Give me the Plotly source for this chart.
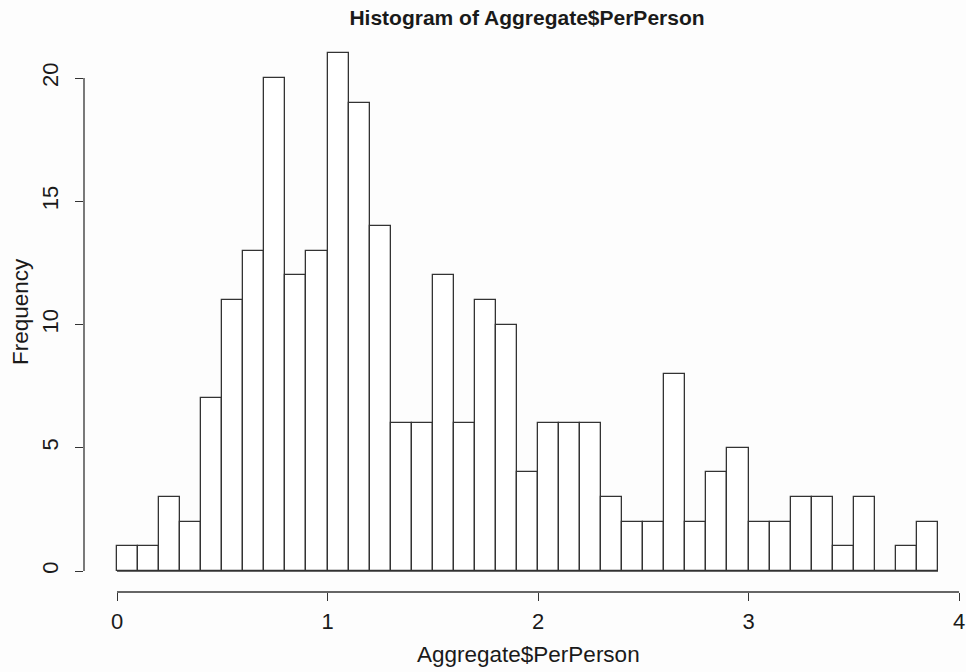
import plotly.graph_objects as go

# Histogram bin edges (width 0.1) and counts per bin
bin_edges = [round(i * 0.1, 1) for i in range(40)]
counts = [1, 1, 3, 2, 7, 11, 13, 20, 12, 13,
          21, 19, 14, 6, 6, 12, 6, 11, 10, 4,
          6, 6, 6, 3, 2, 2, 8, 2, 4, 5,
          2, 2, 3, 3, 1, 3, 0, 1, 2]
x_ticks = [0, 1, 2, 3, 4]
y_ticks = [0, 5, 10, 15, 20]

title_text = "Histogram of Aggregate$PerPerson"
x_label = "Aggregate$PerPerson"
y_label = "Frequency"

ink = "#333333"
text_col = "#1a1a1a"
font_family = "Liberation Sans, Arial, Helvetica, sans-serif"

centers = [(bin_edges[i] + bin_edges[i + 1]) / 2 for i in range(len(counts))]
widths = [bin_edges[i + 1] - bin_edges[i] for i in range(len(counts))]

fig = go.Figure()
fig.add_trace(go.Bar(
    x=centers, y=counts, width=widths,
    marker=dict(color="white", line=dict(color=ink, width=1.3)),
    hoverinfo="x+y", showlegend=False,
))

# R-style axis lines spanning only the tick range, plus the bar baseline
fig.add_shape(type="line", xref="x", yref="paper", x0=x_ticks[0], x1=x_ticks[-1],
              y0=0, y1=0, line=dict(color=ink, width=1.3))
fig.add_shape(type="line", xref="paper", yref="y", x0=0, x1=0,
              y0=y_ticks[0], y1=y_ticks[-1], line=dict(color=ink, width=1.3))
fig.add_shape(type="line", xref="x", yref="y", x0=bin_edges[0], x1=bin_edges[-1],
              y0=0, y1=0, line=dict(color=ink, width=1.3))

fig.update_layout(
    width=966, height=672,
    margin=dict(l=84, r=0, t=33, b=80),
    paper_bgcolor="#fdfdfd", plot_bgcolor="#fdfdfd",
    font=dict(family=font_family, size=22, color=text_col),
    bargap=0,
    title=dict(text="<b>" + title_text + "</b>", x=527 / 966, xref="container",
               y=1 - 18 / 672, yref="container", xanchor="center", yanchor="middle",
               font=dict(size=21, color=text_col)),
    xaxis=dict(range=[-0.1568, 4.033], tickvals=x_ticks, ticks="outside", ticklen=8,
               tickwidth=1.3, tickcolor=ink, showline=False, showgrid=False,
               zeroline=False, ticklabelstandoff=2, tickfont=dict(size=22)),
    yaxis=dict(range=[-0.852, 21.83], tickvals=y_ticks, ticks="outside", ticklen=8,
               tickwidth=1.3, tickcolor=ink, showline=False, showgrid=False,
               zeroline=False, tickangle=-90, ticklabelstandoff=8,
               tickfont=dict(size=22)),
    annotations=[
        dict(text=x_label, xref="paper", yref="paper", x=(528 - 84) / 882,
             y=(592 - 654) / 559, xanchor="center", yanchor="middle",
             showarrow=False, font=dict(size=22.5)),
        dict(text=y_label, xref="paper", yref="paper", x=(20 - 84) / 882,
             y=(592 - 312) / 559, xanchor="center", yanchor="middle",
             textangle=-90, showarrow=False, font=dict(size=22.5)),
    ],
)

fig.write_html("out.html")
